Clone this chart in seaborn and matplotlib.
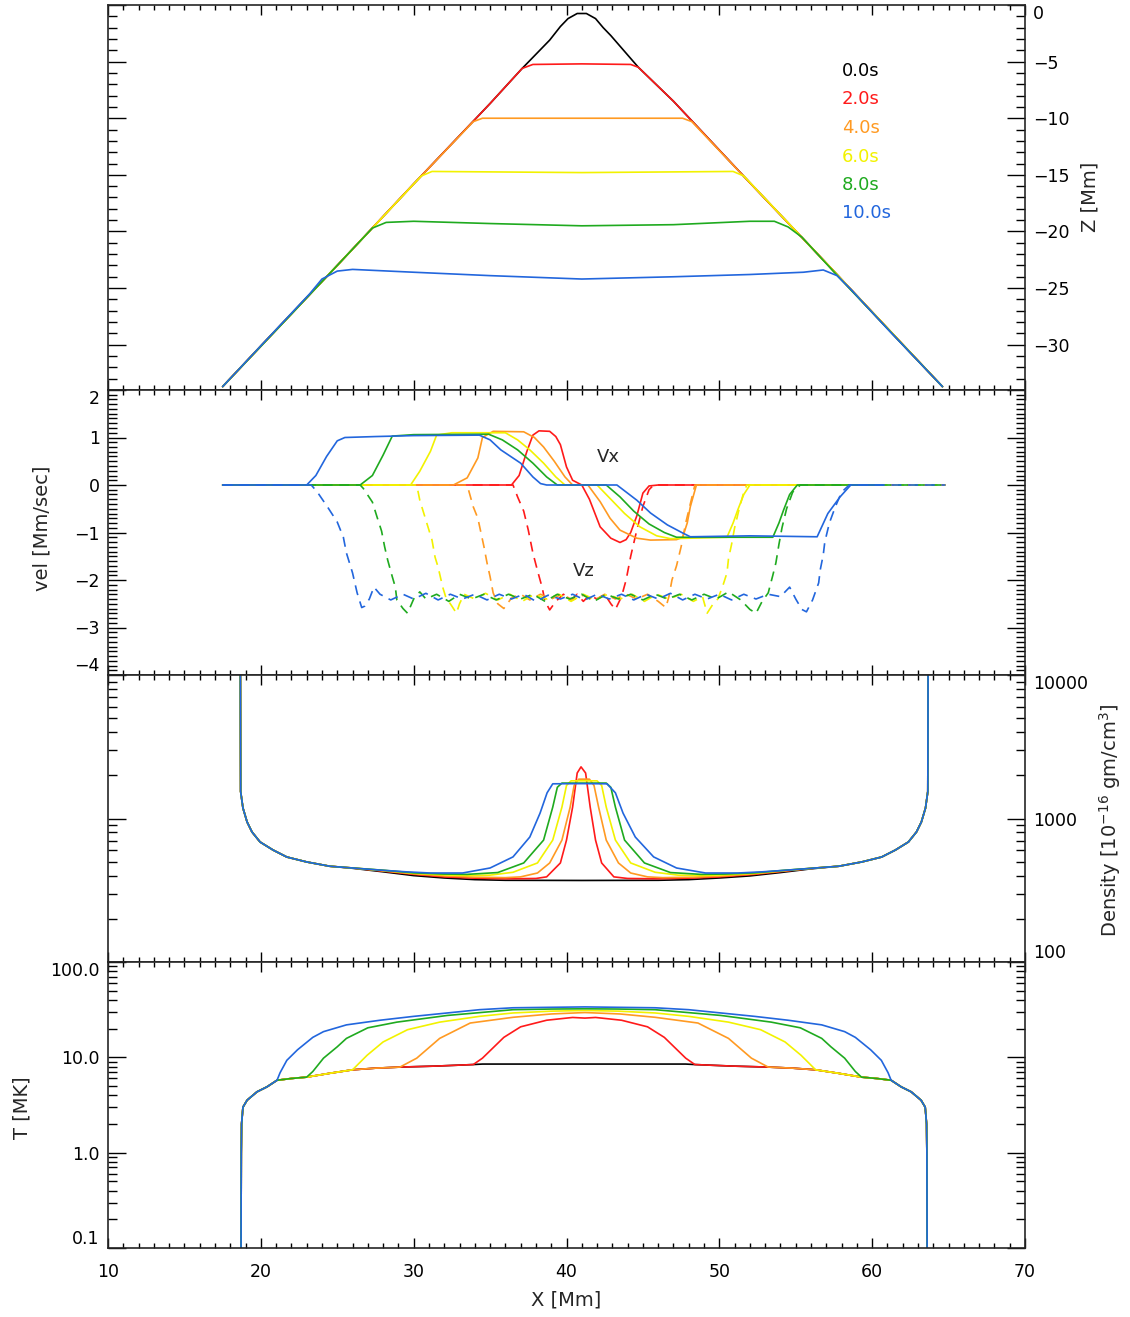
import matplotlib
matplotlib.use("Agg")
import matplotlib.pyplot as plt
import seaborn as sns
from matplotlib.ticker import MultipleLocator, LogLocator, NullFormatter

# ---- data ------------------------------------------------------------------
times = ["0.0s", "2.0s", "4.0s", "6.0s", "8.0s", "10.0s"]
colors = ["#000000", "#ff1a1a", "#ff9a22", "#f2f200", "#1faa1f", "#2266dd"]

# loop height Z [Mm] vs X [Mm]
z_t0 = [(17.5, -33.7), (20, -30.1), (25, -23.0), (30, -15.8), (35, -8.7), (37.1, -5.6),
        (38.9, -3.1), (39.6, -1.9), (40.1, -1.2), (40.7, -0.75), (41.3, -0.75), (41.9, -1.2),
        (42.4, -2.0), (42.9, -2.7), (44.7, -5.5), (47, -8.5), (52, -15.7), (57, -22.8),
        (62, -30.0), (64.6, -33.7)]
z_t2 = [(17.5, -33.7), (25, -23.0), (30, -15.8), (35, -8.7), (37.1, -5.6), (37.8, -5.25),
        (41, -5.2), (44.2, -5.25), (44.7, -5.5), (47, -8.5), (52, -15.7), (57, -22.8), (64.6, -33.7)]
z_t4 = [(17.5, -33.7), (25, -23.0), (30, -15.8), (33.9, -10.3), (34.5, -10.0), (41, -10.0),
        (47.6, -10.0), (48.2, -10.3), (52, -15.7), (57, -22.8), (64.6, -33.7)]
z_t6 = [(17.5, -33.7), (25, -23.0), (30.5, -15.1), (31.2, -14.7), (41, -14.8), (50.9, -14.7),
        (51.6, -15.1), (57, -22.8), (64.6, -33.7)]
z_t8 = [(17.5, -33.7), (22, -27.3), (26.6, -20.7), (27.3, -19.7), (28.2, -19.2), (30, -19.1),
        (35, -19.3), (41, -19.5), (47, -19.4), (52, -19.1), (53.6, -19.1), (54.5, -19.6),
        (55.4, -20.5), (58, -24.3), (64.6, -33.7)]
z_t10 = [(17.5, -33.7), (20, -30.1), (23.2, -25.5), (24.0, -24.2), (25.0, -23.5), (26, -23.35),
         (30, -23.6), (35, -23.9), (41, -24.2), (47, -24.0), (52, -23.8), (55.5, -23.6),
         (56.8, -23.4), (57.7, -23.9), (58.6, -25.1), (61, -28.6), (64.6, -33.7)]

# velocities [Mm/sec]
vx_t2 = [(17.5, 0), (36.4, 0), (36.9, 0.2), (37.4, 0.7), (37.8, 1.05), (38.2, 1.14), (38.9, 1.13),
         (39.3, 1.02), (39.6, 0.85), (40.0, 0.38), (40.4, 0.1), (41.0, 0), (41.5, -0.3),
         (42.2, -0.88), (42.9, -1.12), (43.5, -1.21), (43.9, -1.15), (44.2, -1.0), (44.6, -0.65),
         (45.0, -0.17), (45.4, -0.02), (46, 0), (60.7, 0)]
vx_t4 = [(17.5, 0), (32.6, 0), (33.5, 0.15), (34.2, 0.57), (34.5, 1.0), (35.2, 1.13), (37.2, 1.12),
         (37.9, 1.0), (38.5, 0.8), (39.2, 0.5), (39.9, 0.17), (40.4, 0), (41.4, 0), (42.2, -0.35),
         (42.85, -0.7), (43.5, -0.95), (44.6, -1.12), (45.5, -1.16), (47.2, -1.15), (47.6, -1.1),
         (47.9, -0.8), (48.1, -0.46), (48.5, 0), (60.7, 0)]
vx_t6 = [(17.5, 0), (29.8, 0), (30.4, 0.29), (31.1, 0.71), (31.5, 1.05), (32.5, 1.1), (36.0, 1.1),
         (36.8, 0.95), (37.6, 0.74), (38.5, 0.46), (39.3, 0.17), (39.9, 0), (42.0, 0), (42.9, -0.3),
         (43.8, -0.6), (44.8, -0.88), (45.9, -1.07), (46.8, -1.13), (50.5, -1.1), (50.9, -0.8),
         (51.2, -0.53), (51.6, -0.2), (52.0, 0), (60.7, 0)]
vx_t8 = [(17.5, 0), (26.5, 0), (27.3, 0.2), (28.0, 0.63), (28.6, 1.03), (30, 1.06), (34.9, 1.07),
         (35.8, 0.95), (36.8, 0.74), (37.8, 0.46), (38.7, 0.17), (39.4, 0), (42.6, 0), (43.5, -0.25),
         (44.4, -0.55), (45.4, -0.82), (46.4, -1.0), (47.2, -1.1), (53.5, -1.1), (53.9, -0.8),
         (54.2, -0.53), (54.6, -0.2), (55.1, 0), (60.7, 0)]
vx_t10 = [(17.5, 0), (23.0, 0), (23.6, 0.2), (24.3, 0.6), (25.0, 0.93), (25.5, 1.0), (27.5, 1.02),
          (30, 1.04), (34.3, 1.05), (35.0, 0.95), (35.7, 0.74), (37.0, 0.46), (37.8, 0.17),
          (38.3, 0.03), (38.7, 0), (43.3, 0), (44.6, -0.32), (45.5, -0.59), (46.6, -0.84),
          (47.6, -1.01), (48.1, -1.09), (52, -1.07), (56.4, -1.09), (57.1, -0.6), (57.9, -0.25),
          (58.6, 0), (60.7, 0)]

vz_t2 = [(17.5, 0), (36.5, 0), (36.8, -0.25), (37.2, -0.55), (37.5, -0.95), (37.8, -1.43),
         (38.1, -1.8), (38.4, -2.15), (38.6, -2.45), (38.9, -2.63), (39.3, -2.45), (39.8, -2.3),
         (40.3, -2.42), (40.7, -2.3), (41.1, -2.45), (41.5, -2.32), (42.0, -2.4), (42.5, -2.3),
         (42.9, -2.5), (43.2, -2.62), (43.6, -2.35), (43.9, -2.0), (44.2, -1.5), (44.6, -0.95),
         (45.0, -0.45), (45.4, -0.1), (45.7, 0), (64.8, 0)]
vz_t4 = [(17.5, 0), (33.5, 0), (33.9, -0.46), (34.2, -0.7), (34.4, -1.0), (34.6, -1.3), (34.8, -1.64),
         (35.0, -1.93), (35.2, -2.27), (35.5, -2.5), (35.9, -2.6), (36.4, -2.38), (37.0, -2.3),
         (37.6, -2.42), (38.3, -2.3), (39.0, -2.4), (39.7, -2.3), (40.4, -2.42), (41.1, -2.32),
         (41.8, -2.43), (42.5, -2.3), (43.2, -2.4), (43.9, -2.3), (44.6, -2.4), (45.3, -2.3),
         (46.0, -2.45), (46.5, -2.58), (46.7, -2.35), (46.9, -2.0), (47.2, -1.7), (47.5, -1.3),
         (47.8, -0.8), (48.1, -0.4), (48.4, 0), (64.8, 0)]
vz_t6 = [(17.5, 0), (30.2, 0), (30.4, -0.32), (30.6, -0.53), (31.0, -0.95), (31.2, -1.16),
         (31.4, -1.52), (31.6, -1.73), (31.9, -2.15), (32.1, -2.36), (32.5, -2.55), (32.8, -2.7),
         (33.0, -2.5), (33.3, -2.3), (34.0, -2.4), (34.7, -2.28), (35.5, -2.42), (36.3, -2.3),
         (37.1, -2.45), (37.9, -2.3), (38.7, -2.4), (39.5, -2.3), (40.3, -2.45), (41.1, -2.3),
         (41.9, -2.42), (42.7, -2.3), (43.5, -2.4), (44.3, -2.3), (45.1, -2.45), (45.9, -2.3),
         (46.7, -2.4), (47.5, -2.3), (48.3, -2.45), (48.9, -2.35), (49.2, -2.7), (49.6, -2.5),
         (49.9, -2.4), (50.2, -2.15), (50.5, -1.85), (50.6, -1.55), (50.8, -1.25), (51.0, -0.9),
         (51.3, -0.5), (51.6, -0.15), (51.8, 0), (64.8, 0)]
vz_t8 = [(17.5, 0), (26.5, 0), (26.7, -0.07), (27.3, -0.36), (27.6, -0.67), (27.9, -0.97),
         (28.1, -1.3), (28.3, -1.58), (28.6, -1.93), (28.8, -2.15), (28.9, -2.42), (29.3, -2.6),
         (29.6, -2.7), (30.0, -2.4), (30.4, -2.25), (30.8, -2.4), (31.5, -2.3), (32.3, -2.45),
         (33.0, -2.3), (33.8, -2.4), (34.6, -2.3), (35.4, -2.42), (36.2, -2.3), (37.0, -2.4),
         (37.8, -2.3), (38.6, -2.45), (39.4, -2.3), (40.2, -2.4), (41.0, -2.3), (41.8, -2.45),
         (42.6, -2.3), (43.4, -2.4), (44.2, -2.3), (45.0, -2.42), (45.8, -2.3), (46.6, -2.4),
         (47.4, -2.3), (48.2, -2.42), (49.0, -2.3), (49.8, -2.4), (50.6, -2.25), (51.4, -2.42),
         (52.0, -2.62), (52.4, -2.7), (52.8, -2.45), (53.2, -2.27), (53.5, -1.9), (53.7, -1.64),
         (53.9, -1.25), (54.1, -0.9), (54.4, -0.5), (54.8, -0.15), (55.3, 0), (64.8, 0)]
vz_t10 = [(17.5, 0), (23.3, 0), (23.7, -0.15), (24.4, -0.48), (25.0, -0.78), (25.4, -1.1),
          (25.6, -1.43), (26.0, -1.85), (26.3, -2.27), (26.6, -2.58), (26.8, -2.55), (27.1, -2.4),
          (27.4, -2.15), (27.8, -2.3), (28.5, -2.42), (29.3, -2.3), (30.0, -2.4), (30.8, -2.28),
          (31.6, -2.42), (32.4, -2.3), (33.2, -2.4), (34.0, -2.3), (34.8, -2.42), (35.6, -2.3),
          (36.4, -2.4), (37.2, -2.3), (38.0, -2.45), (38.8, -2.32), (39.6, -2.4), (40.4, -2.3),
          (41.2, -2.42), (42.0, -2.3), (42.8, -2.4), (43.6, -2.3), (44.4, -2.42), (45.2, -2.3),
          (46.0, -2.4), (46.8, -2.28), (47.6, -2.42), (48.4, -2.3), (49.2, -2.4), (50.0, -2.3),
          (50.8, -2.42), (51.6, -2.3), (52.4, -2.4), (53.2, -2.3), (54.0, -2.35), (54.6, -2.15),
          (55.0, -2.4), (55.4, -2.62), (55.7, -2.67), (56.1, -2.42), (56.5, -2.06), (56.6, -1.79),
          (56.8, -1.47), (56.9, -1.2), (57.2, -0.8), (57.6, -0.45), (58.0, -0.15), (58.5, 0),
          (64.8, 0)]

# density [1e-16 gm/cm^3]: footpoint walls shared by all times
rho_wall_left = [(18.66, 12000), (18.68, 1540), (18.83, 1183), (19.1, 946), (19.42, 806),
                 (19.95, 686), (20.8, 603), (21.7, 539), (23.0, 498), (24.5, 465)]
rho_wall_right = [(57.82, 465), (59.32, 498), (60.62, 539), (61.52, 603), (62.37, 686),
                  (62.9, 806), (63.22, 946), (63.49, 1183), (63.64, 1540), (63.66, 12000)]
rho_t0 = [(26, 450), (28, 425), (30, 400), (32, 385), (34, 375), (36, 371), (41, 370), (46, 371),
          (48, 375), (50, 385), (52, 398), (54, 420), (56, 446)]
rho_t2 = [(26, 452), (28, 430), (30, 408), (32, 392), (34, 384), (36, 380), (38, 382), (38.7, 392),
          (39.6, 490), (40.0, 707), (40.4, 1200), (40.7, 2075), (40.95, 2290), (41.25, 2075),
          (41.55, 1200), (41.9, 707), (42.3, 490), (43.1, 392), (44, 382), (46, 380), (48, 384),
          (50, 392), (52.3, 408), (54.3, 430), (56.3, 452)]
rho_t4 = [(26, 452), (28, 432), (30, 412), (32, 398), (34, 390), (36, 387), (37.0, 392), (38.1, 417),
          (38.9, 490), (39.7, 707), (40.24, 1200), (40.5, 1700), (40.8, 1880), (41.5, 1880),
          (41.8, 1700), (42.1, 1200), (42.6, 707), (43.4, 490), (44.2, 417), (45.3, 392), (46.3, 387),
          (48.3, 390), (50.3, 398), (52.3, 412), (54.3, 432), (56.3, 452)]
rho_t6 = [(26, 452), (28, 435), (30, 415), (32, 405), (33.5, 400), (35.0, 403), (36.5, 422),
          (38.1, 490), (39.1, 707), (39.7, 1200), (40.0, 1700), (40.3, 1830), (42.0, 1830),
          (42.3, 1700), (42.6, 1200), (43.2, 707), (44.2, 490), (45.8, 422), (47.3, 403), (48.8, 400),
          (50.3, 405), (52.3, 415), (54.3, 435), (56.3, 452)]
rho_t8 = [(26, 452), (28, 436), (30, 418), (32, 410), (33.5, 408), (35.5, 420), (37.2, 490),
          (38.5, 707), (39.1, 1200), (39.4, 1650), (39.7, 1765), (42.6, 1765), (42.9, 1650),
          (43.2, 1200), (43.8, 707), (45.1, 490), (46.8, 420), (48.8, 408), (50.3, 410), (52.3, 418),
          (54.3, 436), (56.3, 452)]
rho_t10 = [(26.0, 452), (27.8, 437), (29.5, 425), (31.1, 417), (33.2, 417), (35.0, 452), (36.5, 540),
           (37.6, 743), (38.27, 1090), (38.73, 1510), (39.1, 1745), (41, 1750), (42.65, 1745),
           (43.2, 1510), (43.7, 1090), (44.5, 743), (45.7, 540), (47.2, 452), (49.1, 417),
           (51.2, 417), (52.8, 425), (54.5, 437), (56.3, 452)]

# temperature [MK]: footpoint walls shared by all times
t_wall_left = [(18.7, 0.05), (18.72, 1.0), (18.74, 2.0), (18.83, 3.0), (19.1, 3.55), (19.75, 4.35),
               (20.4, 4.9), (21.06, 5.75)]
t_wall_right = [(61.24, 5.75), (61.9, 4.9), (62.55, 4.35), (63.2, 3.55), (63.47, 3.0), (63.56, 2.0),
                (63.58, 1.0), (63.6, 0.05)]
t_t0 = [(22, 6.0), (23, 6.2), (24.5, 6.8), (26, 7.4), (27.5, 7.7), (29.1, 7.9), (31.5, 8.1),
        (33.9, 8.4), (34.5, 8.5), (41, 8.5), (47.8, 8.5), (48.4, 8.4), (50.8, 8.1), (53.2, 7.9),
        (54.8, 7.7), (56.3, 7.4), (57.8, 6.8), (59.3, 6.2), (60.3, 6.0)]
t_t2 = [(22, 6.0), (23, 6.2), (24.5, 6.8), (26, 7.4), (27.5, 7.7), (29.1, 7.9), (31.5, 8.1),
        (33.9, 8.4), (34.5, 9.8), (35.9, 16.2), (37.0, 20.9), (38.7, 24.5), (40.4, 26.2),
        (41.2, 25.8), (41.9, 26.2), (43.6, 24.5), (45.3, 20.9), (46.4, 16.2), (47.8, 9.8),
        (48.4, 8.4), (50.8, 8.1), (53.2, 7.9), (54.8, 7.7), (56.3, 7.4), (57.8, 6.8), (59.3, 6.2),
        (60.3, 6.0)]
t_t4 = [(22, 6.0), (23, 6.2), (24.5, 6.8), (26, 7.4), (27.5, 7.7), (29.1, 7.9), (30.2, 9.8),
        (31.7, 15.8), (33.7, 22.9), (36.5, 26.3), (39, 28.5), (41.2, 29.5), (43.5, 28.5),
        (45.8, 26.3), (48.6, 22.9), (50.6, 15.8), (52.1, 9.8), (53.2, 7.9), (54.8, 7.7), (56.3, 7.4),
        (57.8, 6.8), (59.3, 6.2), (60.3, 6.0)]
t_t6 = [(22, 6.0), (23, 6.2), (24.5, 6.8), (26.0, 7.4), (26.95, 10.5), (28.0, 14.5), (29.6, 19.5),
        (31.7, 23.4), (34.3, 26.9), (36.5, 29.2), (39, 30.5), (41.2, 31.0), (43.4, 30.5),
        (45.8, 29.2), (48.0, 26.9), (50.6, 23.4), (52.7, 19.5), (54.3, 14.5), (55.35, 10.5),
        (56.3, 7.4), (57.8, 6.8), (59.3, 6.2), (60.3, 6.0)]
t_t8 = [(22, 6.0), (23.0, 6.2), (23.4, 7.1), (24.1, 9.8), (25.0, 12.9), (25.6, 15.8), (27.0, 20.4),
        (28.9, 23.4), (32.2, 27.5), (36.5, 31.6), (39, 32.1), (41.2, 32.3), (43.4, 32.1),
        (45.8, 31.6), (50.1, 27.5), (53.4, 23.4), (55.3, 20.4), (56.7, 15.8), (57.3, 12.9),
        (58.2, 9.8), (58.9, 7.1), (59.3, 6.2), (60.3, 6.0)]
t_t10 = [(21.26, 6.9), (21.7, 9.3), (22.4, 12.0), (23.4, 16.2), (24.1, 18.6), (25.6, 21.9),
         (27.8, 24.5), (30.0, 26.9), (32.2, 29.2), (34.3, 31.6), (36.5, 33.1), (41.2, 33.8),
         (45.8, 33.1), (48.0, 31.6), (50.1, 29.2), (52.3, 26.9), (54.5, 24.5), (56.7, 21.9),
         (58.2, 18.6), (58.9, 16.2), (59.9, 12.0), (60.6, 9.3), (61.04, 6.9)]

z_series = [z_t0, z_t2, z_t4, z_t6, z_t8, z_t10]
vx_series = [vx_t2, vx_t4, vx_t6, vx_t8, vx_t10]
vz_series = [vz_t2, vz_t4, vz_t6, vz_t8, vz_t10]
rho_series = [rho_t0, rho_t2, rho_t4, rho_t6, rho_t8, rho_t10]
t_series = [t_t0, t_t2, t_t4, t_t6, t_t8, t_t10]

# ---- drawing ----------------------------------------------------------------
sns.set_style("ticks")
plt.rcParams["font.family"] = ["DejaVu Sans"]
plt.rcParams["axes.linewidth"] = 1.2

LW = 1.2


def draw(ax, pts, color, **kw):
    sns.lineplot(x=[p[0] for p in pts], y=[p[1] for p in pts], color=color, ax=ax,
                 sort=False, estimator=None, linewidth=LW, **kw)


fig = plt.figure(figsize=(11.3, 13.17), dpi=100)
gs = fig.add_gridspec(4, 1, height_ratios=[385, 285, 287, 286], hspace=0,
                      left=108 / 1130, right=1025 / 1130, top=1 - 5 / 1317, bottom=1 - 1248 / 1317)
ax1, ax2, ax3, ax4 = [fig.add_subplot(gs[i]) for i in range(4)]

for pts, c in zip(z_series, colors):
    draw(ax1, pts, c)

for vx, vz, c in zip(vx_series, vz_series, colors[1:]):
    draw(ax2, vz, c, linestyle=(0, (6, 4)))
    draw(ax2, vx, c)

for pts, c in zip(rho_series, colors):
    draw(ax3, rho_wall_left + pts + rho_wall_right, c)

for pts, c in zip(t_series, colors):
    draw(ax4, t_wall_left + pts + t_wall_right, c)

# legend as coloured text
for i, (lab, c) in enumerate(zip(times, colors)):
    ax1.text(0.800, (390 - (71 + 28.5 * i)) / 385, lab, color=c, fontsize=13,
             ha="left", va="center", transform=ax1.transAxes)

ax2.text(42.75, 0.6, "Vx", fontsize=13, ha="center", va="center")
ax2.text(41.1, -1.8, "Vz", fontsize=13, ha="center", va="center")

# axes styling
for ax in (ax1, ax2, ax3, ax4):
    ax.set_xlim(10, 70)
    ax.xaxis.set_major_locator(MultipleLocator(10))
    ax.xaxis.set_minor_locator(MultipleLocator(1))
    ax.tick_params(which="both", direction="in", top=True, bottom=True, left=True, right=True,
                   labelsize=12.5, width=1.0, colors="black")
    ax.tick_params(axis="x", which="major", length=7, pad=11)
    ax.tick_params(axis="x", which="minor", length=3.5)
    ax.tick_params(axis="y", which="major", length=13, pad=6)
    ax.tick_params(axis="y", which="minor", length=6.5)
    ax.set_xlabel("")
    ax.set_ylabel("")
    if ax is not ax4:
        ax.tick_params(axis="x", labelbottom=False)

ax1.set_ylim(-34, 0)
ax1.set_yticks([0, -5, -10, -15, -20, -25, -30])
ax1.yaxis.set_minor_locator(MultipleLocator(1))
ax1.tick_params(axis="y", labelleft=False, labelright=True)

ax2.set_ylim(-4, 2)
ax2.set_yticks([-4, -3, -2, -1, 0, 1, 2])
ax2.yaxis.set_minor_locator(MultipleLocator(0.1))

ax3.set_yscale("log")
ax3.set_ylim(100, 10000)
ax3.set_yticks([100, 1000, 10000])
ax3.set_yticklabels(["100", "1000", "10000"])
ax3.yaxis.set_minor_locator(LogLocator(base=10, subs=range(2, 10)))
ax3.yaxis.set_minor_formatter(NullFormatter())
ax3.tick_params(axis="y", labelleft=False, labelright=True)

ax4.set_yscale("log")
ax4.set_ylim(0.1, 100)
ax4.set_yticks([0.1, 1, 10, 100])
ax4.set_yticklabels(["0.1", "1.0", "10.0", "100.0"])
ax4.yaxis.set_minor_locator(LogLocator(base=10, subs=range(2, 10)))
ax4.yaxis.set_minor_formatter(NullFormatter())

# keep edge labels inside each panel
for ax, top_first in ((ax1, True), (ax2, False), (ax3, False), (ax4, False)):
    ticks = ax.yaxis.get_major_ticks()
    top_tick = ticks[0] if top_first else ticks[-1]
    for lab in (top_tick.label1, top_tick.label2):
        lab.set_verticalalignment("top")
    if ax is not ax1:
        for lab in (ticks[0].label1, ticks[0].label2):
            lab.set_verticalalignment("bottom")

# axis titles
fig.text(1090 / 1130, 1 - 197 / 1317, "Z [Mm]", rotation=90, ha="center", va="center", fontsize=14)
fig.text(42 / 1130, 1 - 528 / 1317, "vel [Mm/sec]", rotation=90, ha="center", va="center", fontsize=14)
fig.text(1110 / 1130, 1 - 820 / 1317, r"Density [10$^{-16}$ gm/cm$^{3}$]", rotation=90,
         ha="center", va="center", fontsize=14)
fig.text(22 / 1130, 1 - 1108 / 1317, "T [MK]", rotation=90, ha="center", va="center", fontsize=14)
fig.text(566 / 1130, 1 - 1300 / 1317, "X [Mm]", ha="center", va="center", fontsize=14)

fig.savefig("out.png", dpi=100)
